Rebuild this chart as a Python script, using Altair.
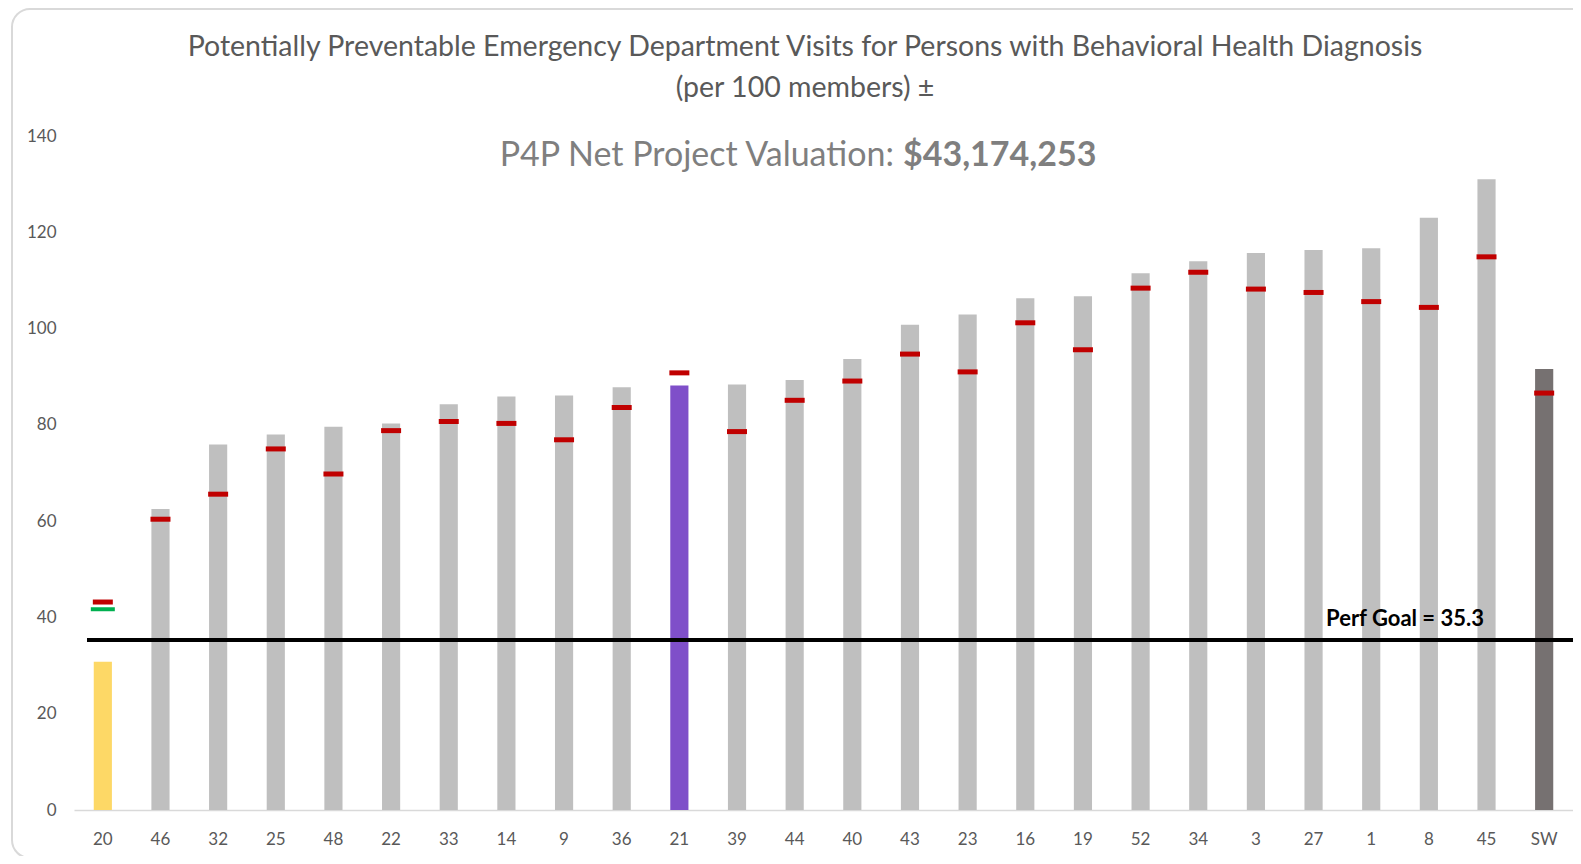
import altair as alt
import pandas as pd

categories = ["20", "46", "32", "25", "48", "22", "33", "14", "9", "36", "21", "39", "44",
              "40", "43", "23", "16", "19", "52", "34", "3", "27", "1", "8", "45", "SW"]
rates = [30.8, 62.5, 75.9, 78.0, 79.6, 80.3, 84.3, 85.9, 86.1, 87.8, 88.2, 88.4, 89.3,
         93.7, 100.8, 102.9, 106.3, 106.7, 111.5, 114.0, 115.7, 116.3, 116.7, 123.0, 131.0, 91.6]
prior = [43.2, 60.4, 65.6, 75.0, 69.8, 78.8, 80.7, 80.3, 76.9, 83.6, 90.8, 78.6, 85.1,
         89.1, 94.7, 91.0, 101.2, 95.6, 108.4, 111.7, 108.2, 107.5, 105.6, 104.4, 114.9, 86.6]
green_cat = ["20"]
green_val = [41.7]
perf_goal = 35.3
goal_label = "Perf Goal = 35.3"
title_1 = "Potentially Preventable Emergency Department Visits for Persons with Behavioral Health Diagnosis"
title_2 = "(per 100 members) \u00b1"
val_label = "P4P Net Project Valuation:"
val_amount = "$43,174,253"

FONT = "Lato"
W, H = 1499, 674

df = pd.DataFrame({"cat": categories, "rate": rates, "prior": prior})
df["kind"] = ["selected" if c == "20" else "peer" if c == "21" else "state" if c == "SW" else "other"
              for c in categories]
gdf = pd.DataFrame({"cat": green_cat, "val": green_val})

xscale = alt.Scale(domain=categories, paddingInner=0.685, paddingOuter=0.3425)
yscale = alt.Scale(domain=[0, 140], nice=False)

x_enc = alt.X("cat:N", scale=xscale, sort=categories,
              axis=alt.Axis(title=None, labelAngle=0, ticks=False, domainColor="#d9d9d9",
                            domainWidth=1.5, labelPadding=21, labelFontSize=17,
                            labelColor="#595959", labelFont=FONT))

base = alt.Chart(df)

bars = base.mark_bar().encode(
    x=x_enc,
    y=alt.Y("rate:Q", scale=yscale,
            axis=alt.Axis(title=None, values=list(range(0, 141, 20)), grid=False, domain=False,
                          ticks=False, labelPadding=18, labelFontSize=17, labelColor="#595959",
                          labelFont=FONT)),
    color=alt.Color("kind:N", legend=None,
                    scale=alt.Scale(domain=["selected", "peer", "state", "other"],
                                    range=["#fdd866", "#7f4fc9", "#767171", "#bfbfbf"])),
)

goal_df = pd.DataFrame({"goal": [perf_goal], "label": [goal_label]})
rule = alt.Chart(goal_df).mark_rule(color="black", strokeWidth=4).encode(
    y=alt.Y("goal:Q", scale=yscale), x=alt.value(13), x2=alt.value(W))
goal_text = alt.Chart(goal_df).mark_text(font=FONT, fontSize=22, fontWeight="bold", color="black",
                                         baseline="bottom", align="center", dy=-9).encode(
    y=alt.Y("goal:Q", scale=yscale), x=alt.value(1331), text="label:N")

red = base.mark_tick(color="#c00000", thickness=5, size=20, opacity=1).encode(
    x=alt.X("cat:N", scale=xscale, sort=categories), y=alt.Y("prior:Q", scale=yscale))
green = alt.Chart(gdf).mark_tick(color="#00b050", thickness=4, size=24, opacity=1).encode(
    x=alt.X("cat:N", scale=xscale, sort=categories), y=alt.Y("val:Q", scale=yscale))

tdf = pd.DataFrame({"t1": [title_1], "t2": [title_2], "v1": [val_label], "v2": [val_amount]})
tb = alt.Chart(tdf)
t1 = tb.mark_text(font=FONT, fontSize=28.5, color="#595959", align="center", baseline="middle").encode(
    x=alt.value(731), y=alt.value(-89), text="t1:N")
t2 = tb.mark_text(font=FONT, fontSize=28.5, color="#595959", align="center", baseline="middle").encode(
    x=alt.value(731), y=alt.value(-48), text="t2:N")
v1 = tb.mark_text(font=FONT, fontSize=34, color="#7f7f7f", align="right", baseline="middle").encode(
    x=alt.value(820), y=alt.value(20), text="v1:N")
v2 = tb.mark_text(font=FONT, fontSize=34, color="#7f7f7f", fontWeight="bold", align="left",
                  baseline="middle").encode(x=alt.value(829), y=alt.value(20), text="v2:N")

frame = tb.mark_rect(fill=None, fillOpacity=0, stroke="#d9d9d9", strokeWidth=2, cornerRadius=18).encode(
    x=alt.value(-62), x2=alt.value(W + 30), y=alt.value(-127), y2=alt.value(H + 48))

chart = alt.layer(frame, bars, rule, red, green, goal_text, t1, t2, v1, v2).properties(
    width=W, height=H,
    autosize=alt.AutoSizeParams(type="none"),
    padding={"left": 66, "top": 128, "right": 0, "bottom": 46},
    background="white",
).configure_view(stroke=None)

chart.save("out.html", embed_options={"renderer": "svg", "actions": False})
